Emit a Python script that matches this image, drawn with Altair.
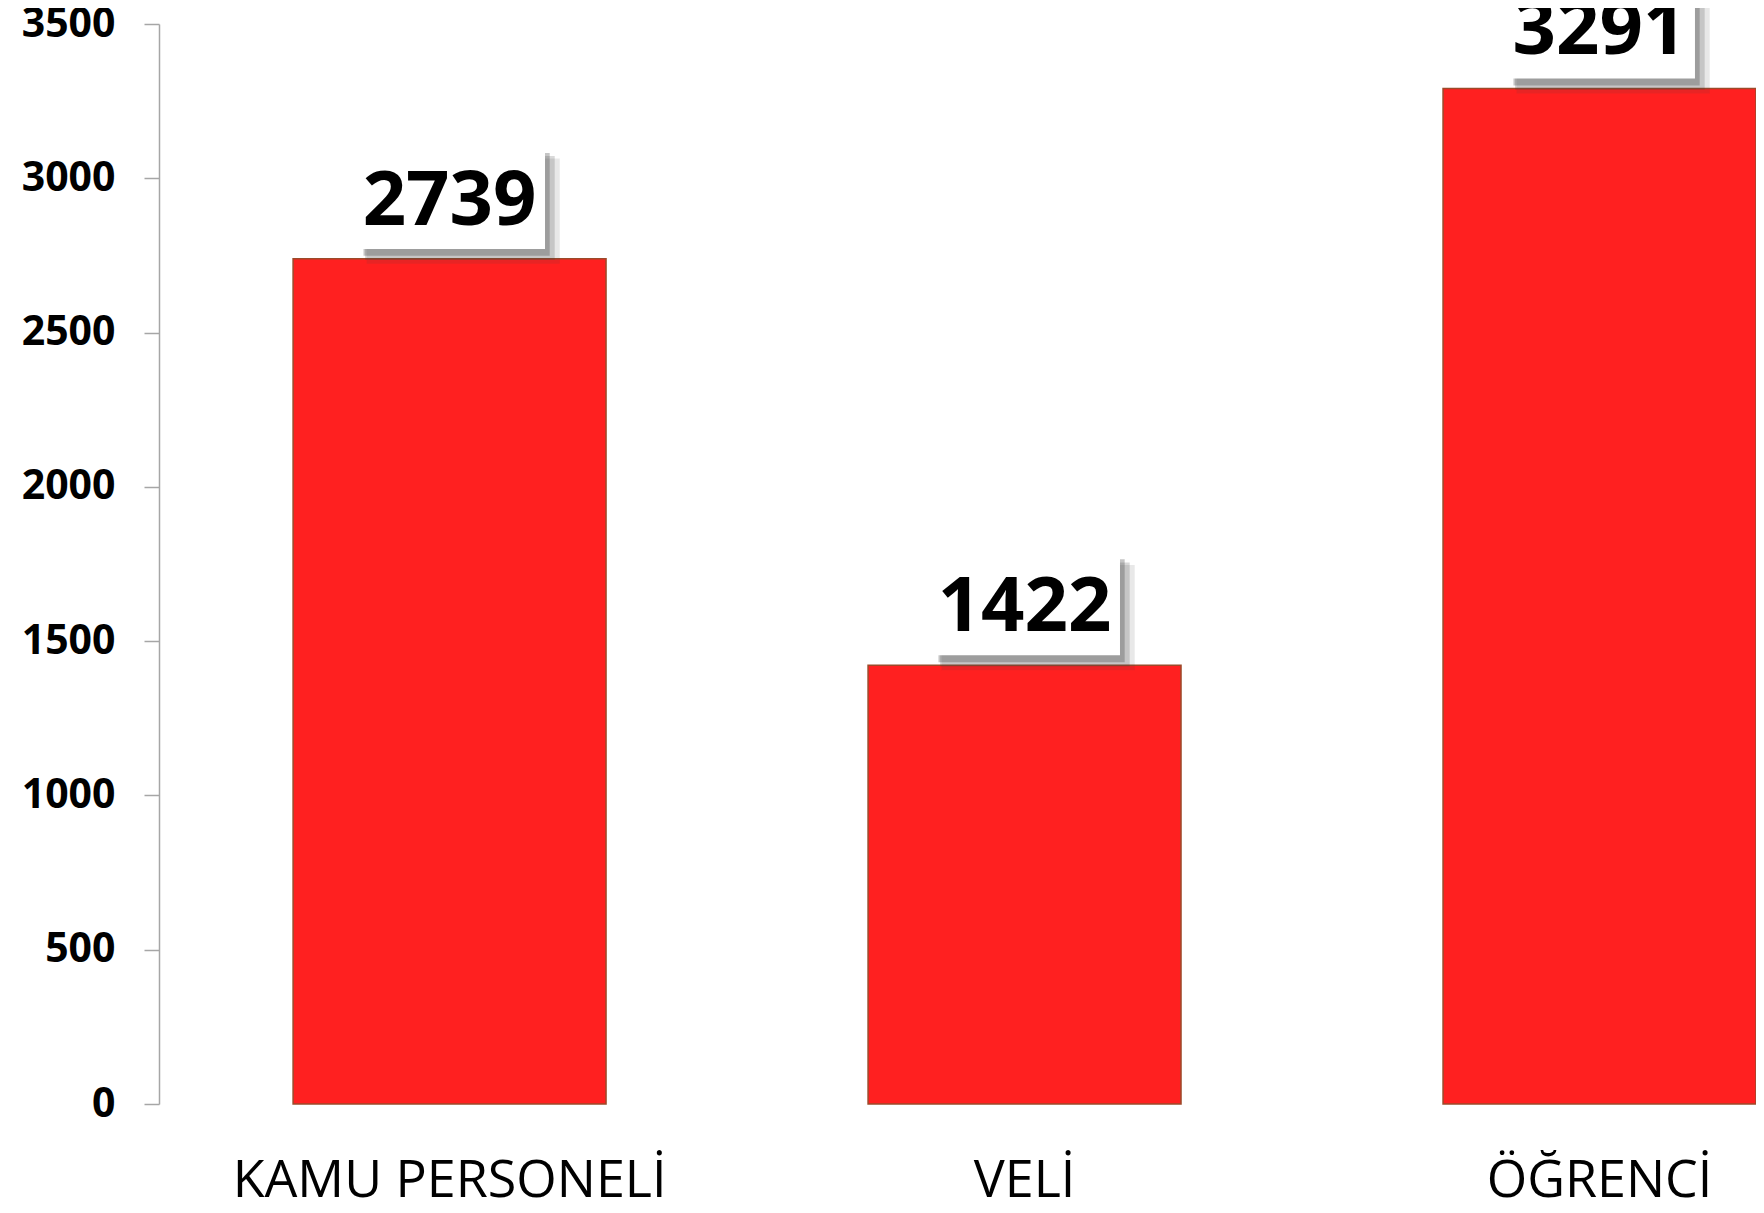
import altair as alt
import pandas as pd

categories = ["KAMU PERSONELİ", "VELİ", "ÖĞRENCİ"]
values = [2739, 1422, 3291]
y_ticks = [0, 500, 1000, 1500, 2000, 2500, 3000, 3500]

df = pd.DataFrame({"cat": categories, "val": values})

x_enc = alt.X(
    "cat:N",
    sort=categories,
    title=None,
    scale=alt.Scale(paddingInner=0.4557, paddingOuter=0.1166, align=1),
    axis=alt.Axis(
        labelAngle=0,
        domain=False,
        ticks=False,
        labelFont="Open Sans",
        labelFontSize=52,
        labelFontWeight="normal",
        labelColor="#000000",
        labelBaseline="alphabetic",
        labelPadding=92,
        labelLimit=0,
        labelOverlap=False,
    ),
)
y_enc = alt.Y(
    "val:Q",
    title=None,
    scale=alt.Scale(domain=[0, 3500], nice=False),
    axis=alt.Axis(
        values=y_ticks,
        format="d",
        grid=False,
        domainColor="#a6a6a6",
        domainWidth=1.5,
        tickColor="#a6a6a6",
        tickWidth=1.5,
        tickSize=15,
        labelFont="Open Sans",
        labelFontSize=41,
        labelFontWeight="bold",
        labelColor="#000000",
        labelPadding=29,
        labelBaseline="middle",
    ),
)

base = alt.Chart(df)

bars = base.mark_bar(
    color="#ff2020", stroke="#9c4a2a", strokeWidth=1.5
).encode(x=x_enc, y=y_enc)


def soft_rect(x0, x1, top_off, bot_off, color, opacity):
    return base.transform_calculate(
        top=f"datum.val + {top_off}", bot=f"datum.val + {bot_off}"
    ).mark_rect(color=color, opacity=opacity).encode(
        x=alt.X("cat:N", sort=categories, bandPosition=x0),
        x2=alt.X2("cat", bandPosition=x1),
        y="top:Q",
        y2="bot:Q",
    )


# blurred drop shadow of the label boxes, then the white box on top
shadow_layers = [
    soft_rect(0.235, 0.852, 325, -16, "#404040", 0.12),
    soft_rect(0.23, 0.836, 333, -4, "#404040", 0.2),
    soft_rect(0.225, 0.82, 343, 10, "#404040", 0.3),
]
box = soft_rect(0.2, 0.805, 365, 32, "#ffffff", 1.0)

labels = base.mark_text(
    font="Open Sans",
    fontSize=76,
    fontWeight="bold",
    color="#000000",
    baseline="alphabetic",
    align="center",
    dy=-34,
).encode(x=alt.X("cat:N", sort=categories), y="val:Q", text="val:Q")

chart = (
    alt.layer(bars, *shadow_layers, box, labels)
    .properties(
        width=1597,
        height=1080,
        autosize=alt.AutoSizeParams(type="none"),
        padding={"left": 151, "top": 16, "right": 0, "bottom": 109},
        background="#ffffff",
    )
    .configure_view(stroke=None)
)

chart.save("out.html", embed_options={"renderer": "svg", "actions": False})
